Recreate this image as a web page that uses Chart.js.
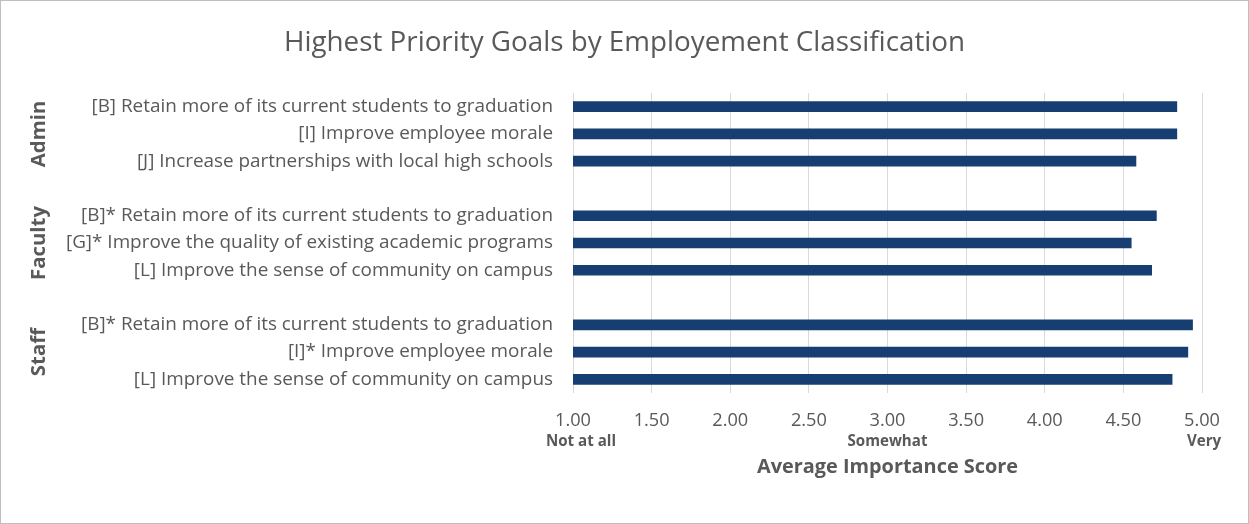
<!DOCTYPE html>
<html>
<head>
<meta charset="utf-8">
<script src="https://cdn.jsdelivr.net/npm/chart.js@4.4.1/dist/chart.umd.min.js"></script>
<style>
html,body{margin:0;padding:0;background:#fff;}
#wrap{position:absolute;left:0;top:0;width:1247px;height:522px;border:1px solid #bfbfbf;}
canvas{display:block;}
</style>
</head>
<body>
<div id="wrap"><canvas id="c" width="1247" height="522"></canvas></div>
<script>
const categories = [
  "[B] Retain more of its current students to graduation",
  "[I] Improve employee morale",
  "[J] Increase partnerships with local high schools",
  "",
  "[B]* Retain more of its current students to graduation",
  "[G]* Improve the quality of existing academic programs",
  "[L] Improve the sense of community on campus",
  "",
  "[B]* Retain more of its current students to graduation",
  "[I]* Improve employee morale",
  "[L] Improve the sense of community on campus"
];
const values = [4.84, 4.84, 4.58, null, 4.71, 4.55, 4.68, null, 4.94, 4.91, 4.81];
const groups = ["Admin", "Faculty", "Staff"];
const groupRows = [[0, 2], [4, 6], [8, 10]];
const xTicks = [1.00, 1.50, 2.00, 2.50, 3.00, 3.50, 4.00, 4.50, 5.00];
const anchorLabels = [[1.00, "Not at all"], [3.00, "Somewhat"], [5.00, "Very"]];
const axisTitle = "Average Importance Score";
const chartTitle = "Highest Priority Goals by Employement Classification";

const GREY = '#595959';
const FONT = '"Open Sans"';

const mctx = document.createElement('canvas').getContext('2d');
function fit(text, weight, target) {
  mctx.font = weight + ' 100px ' + FONT;
  return Math.round(target / mctx.measureText(text).width * 1000) / 10;
}
const titleSize = fit(chartTitle, 'normal', 682);
const labelSize = fit(categories[5], 'normal', 487);
const tickSize = fit('1.00', 'normal', 36);
const groupSize = fit('Faculty', 'bold', 74);
const anchorSize = fit('Somewhat', 'bold', 80);
const axisTitleSize = fit(axisTitle, 'bold', 261);

const titleLH = titleSize * 1.2;
const titleTop = 42 - titleLH / 2;
const titleBottom = 92 - titleTop - titleLH;

const extras = {
  id: 'extras',
  afterLayout(chart) {
    const tb = chart.titleBlock;
    if (tb) { tb.left = 0; tb.right = chart.width; tb.width = chart.width; }
  },
  afterDraw(chart) {
    const ctx = chart.ctx;
    const x = chart.scales.x, y = chart.scales.y;
    ctx.save();
    ctx.fillStyle = GREY;
    ctx.textAlign = 'center';
    ctx.textBaseline = 'middle';
    ctx.font = 'bold ' + groupSize + 'px ' + FONT;
    groups.forEach((g, i) => {
      const yc = (y.getPixelForValue(groupRows[i][0]) + y.getPixelForValue(groupRows[i][1])) / 2;
      ctx.save();
      ctx.translate(38, yc);
      ctx.rotate(-Math.PI / 2);
      ctx.fillText(g, 0, 0);
      ctx.restore();
    });
    ctx.font = 'bold ' + anchorSize + 'px ' + FONT;
    anchorLabels.forEach(([v, t], i) => {
      const off = i === 0 ? 8 : (i === 2 ? 2 : 0);
      ctx.fillText(t, x.getPixelForValue(v) + off, 441);
    });
    ctx.font = 'bold ' + axisTitleSize + 'px ' + FONT;
    ctx.fillText(axisTitle, (x.left + x.right) / 2, 466);
    ctx.restore();
  }
};

new Chart(document.getElementById('c'), {
  type: 'bar',
  data: {
    labels: categories,
    datasets: [{
      data: values,
      backgroundColor: '#173e72',
      borderWidth: 0,
      barThickness: 10
    }]
  },
  options: {
    indexAxis: 'y',
    responsive: false,
    animation: false,
    maintainAspectRatio: false,
    layout: { padding: { left: 0, right: 46, top: 0, bottom: 0 } },
    plugins: {
      legend: { display: false },
      tooltip: { enabled: false },
      title: {
        display: true,
        text: chartTitle,
        color: GREY,
        font: { family: FONT, size: titleSize, weight: 'normal', lineHeight: 1.2 },
        padding: { top: titleTop, bottom: titleBottom }
      }
    },
    scales: {
      x: {
        type: 'linear',
        min: 1, max: 5,
        afterBuildTicks(s) { s.ticks = xTicks.map(v => ({ value: v })); },
        afterFit(s) { s.height = 130; },
        grid: { color: '#d9d9d9', drawTicks: false, lineWidth: 1 },
        border: { display: false },
        ticks: {
          color: GREY,
          font: { family: FONT, size: tickSize },
          padding: 17,
          callback: v => Number(v).toFixed(2)
        }
      },
      y: {
        afterFit(s) { s.width = 572; },
        grid: { display: false, drawTicks: false },
        border: { display: false },
        ticks: {
          color: GREY,
          font: { family: FONT, size: labelSize },
          padding: 20,
          autoSkip: false
        }
      }
    }
  },
  plugins: [extras]
});
</script>
</body>
</html>
